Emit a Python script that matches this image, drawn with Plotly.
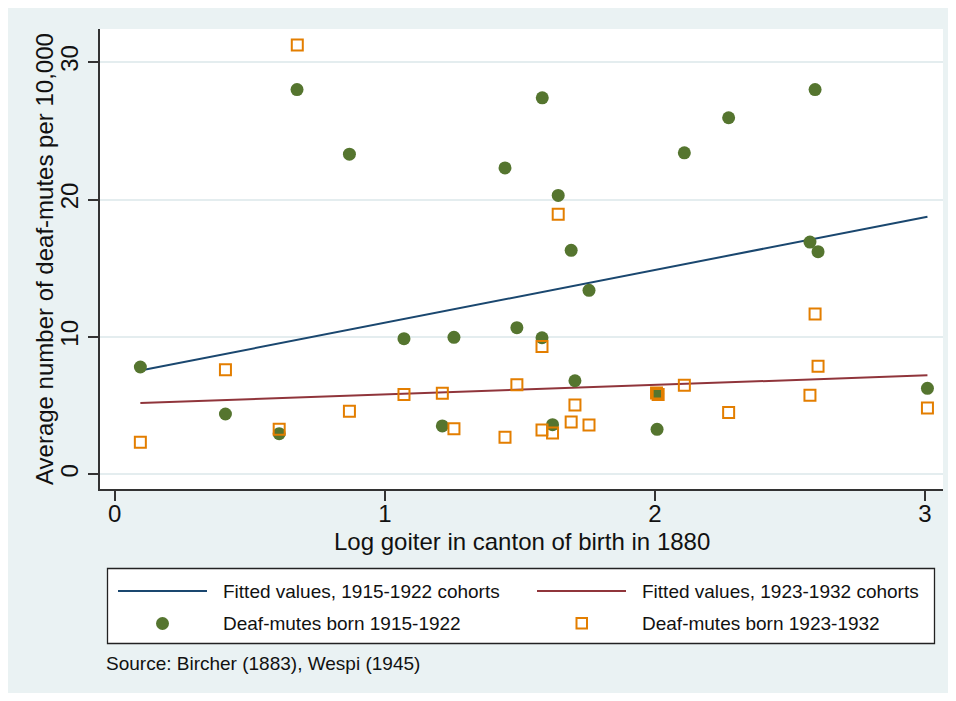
import plotly.graph_objects as go

# log goiter in canton of birth (1880) and deaf-mutes per 10,000, by cohort
goiter_1915 = [0.095, 0.410, 0.609, 0.675, 0.869, 1.071, 1.213, 1.256, 1.445, 1.489,
               1.582, 1.583, 1.621, 1.642, 1.690, 1.704, 1.756, 2.008, 2.010, 2.109,
               2.273, 2.574, 2.593, 2.604, 3.009]
deaf_1915 = [7.81, 4.39, 2.96, 28.0, 23.3, 9.87, 3.52, 9.97, 22.3, 10.67,
             9.94, 27.4, 3.61, 20.3, 16.3, 6.81, 13.39, 3.27, 5.84, 23.4,
             25.95, 16.9, 28.0, 16.2, 6.26]

goiter_1923 = [0.095, 0.410, 0.609, 0.676, 0.869, 1.071, 1.213, 1.256, 1.445, 1.489,
               1.582, 1.582, 1.621, 1.642, 1.690, 1.704, 1.756, 2.006, 2.012, 2.109,
               2.273, 2.574, 2.593, 2.604, 3.009]
deaf_1923 = [2.33, 7.61, 3.27, 31.25, 4.58, 5.80, 5.89, 3.32, 2.69, 6.52,
             9.31, 3.22, 3.00, 18.92, 3.81, 5.04, 3.59, 5.92, 5.80, 6.48,
             4.49, 5.75, 11.67, 7.86, 4.83]

# fitted values at both ends of the x range
fit_x = [0.095, 3.009]
fit_1915 = [7.55, 18.75]
fit_1923 = [5.19, 7.20]

legend_labels = ['Fitted values, 1915-1922 cohorts', 'Fitted values, 1923-1932 cohorts',
                 'Deaf-mutes born 1915-1922', 'Deaf-mutes born 1923-1932']
x_title = 'Log goiter in canton of birth in 1880'
y_title = 'Average number of deaf-mutes per 10,000'
note = 'Source: Bircher (1883), Wespi (1945)'
x_ticks = [0, 1, 2, 3]
y_ticks = [0, 10, 20, 30]

navy = '#1A476F'
maroon = '#90353B'
green = '#55752F'
orange = '#E37E00'
bg = '#EAF2F3'
FONT = 'Liberation Sans, Arial, sans-serif'

# page body adds 8px; keep the figure small enough that the page never scrolls
W, H = 948, 685
L, T = 92, 21
PW, PH = 843, 460
R, B = W - L - PW, H - T - PH


# screen pixel -> paper coords (screen plot area is x 100..943, y 29..489)
def px(x):
    return (x - 100) / PW


def py(y):
    return (489 - y) / PH


fig = go.Figure()
fig.add_trace(go.Scatter(x=fit_x, y=fit_1915, mode='lines', line=dict(color=navy, width=2),
                         name=legend_labels[0]))
fig.add_trace(go.Scatter(x=fit_x, y=fit_1923, mode='lines', line=dict(color=maroon, width=2),
                         name=legend_labels[1]))
fig.add_trace(go.Scatter(x=goiter_1915, y=deaf_1915, mode='markers',
                         marker=dict(color=green, size=13, line=dict(width=0)),
                         name=legend_labels[2]))
fig.add_trace(go.Scatter(x=goiter_1923, y=deaf_1923, mode='markers',
                         marker=dict(symbol='square-open', color=orange, size=11,
                                     line=dict(width=2, color=orange)),
                         name=legend_labels[3]))

shapes = [
    # light blue graph region and white plot region
    dict(type='rect', xref='paper', yref='paper', x0=px(7), x1=px(970), y0=py(695), y1=py(5),
         fillcolor=bg, line=dict(width=0), layer='below'),
    dict(type='rect', xref='paper', yref='paper', x0=0, x1=1, y0=0, y1=1,
         fillcolor='white', line=dict(width=0), layer='below'),
    # legend box
    dict(type='rect', xref='paper', yref='paper', x0=px(107.5), x1=px(934.5),
         y0=py(643.5), y1=py(568.5), fillcolor='white', line=dict(color='#222', width=1.3)),
    dict(type='line', xref='paper', yref='paper', x0=px(118), x1=px(207), y0=py(591), y1=py(591),
         line=dict(color=navy, width=2)),
    dict(type='line', xref='paper', yref='paper', x0=px(537), x1=px(626), y0=py(591), y1=py(591),
         line=dict(color=maroon, width=2)),
    dict(type='circle', xref='paper', yref='paper', x0=px(156), x1=px(169), y0=py(630), y1=py(617),
         fillcolor=green, line=dict(width=0)),
    dict(type='rect', xref='paper', yref='paper', x0=px(576.5), x1=px(587), y0=py(628.5),
         y1=py(618), fillcolor='white', line=dict(color=orange, width=2)),
]

annotations = []
for lab, x, y in zip(legend_labels, [221, 640, 221, 640], [591, 591, 623.5, 623.5]):
    annotations.append(dict(text=lab, xref='paper', yref='paper', x=px(x), y=py(y),
                            xanchor='left', yanchor='middle', showarrow=False,
                            font=dict(size=19, color='#111', family=FONT)))
annotations.append(dict(text=note, xref='paper', yref='paper',
                        x=px(104), y=py(663), xanchor='left', yanchor='middle', showarrow=False,
                        font=dict(size=19, color='#111', family=FONT)))
# axis titles
annotations.append(dict(text=x_title, xref='paper', yref='paper', x=0.5, y=py(541),
                        xanchor='center', yanchor='middle', showarrow=False,
                        font=dict(size=24, color='#111', family=FONT)))
annotations.append(dict(text=y_title, xref='paper', yref='paper', x=px(44), y=py(259),
                        xanchor='center', yanchor='middle', showarrow=False, textangle=-90,
                        font=dict(size=24, color='#111', family=FONT)))

fig.update_layout(
    width=W, height=H,
    margin=dict(l=L, r=R, t=T, b=B, pad=0),
    paper_bgcolor='white',
    plot_bgcolor='white',
    showlegend=False,
    font=dict(family=FONT, size=24, color='#111'),
    shapes=shapes,
    annotations=annotations,
)
fig.update_xaxes(
    range=[-0.0544, 3.0666], tickvals=x_ticks, ticks='outside', ticklen=10, tickwidth=1.5,
    tickcolor='#333', showline=True, linecolor='#333', linewidth=1.5, showgrid=False,
    zeroline=False, tickfont=dict(size=24), ticklabelstandoff=-8,
)
fig.update_yaxes(
    range=[-1.07, 32.41], tickvals=y_ticks, ticks='outside', ticklen=10, tickwidth=1.5,
    tickcolor='#333', showline=True, linecolor='#333', linewidth=1.5, showgrid=True,
    gridcolor='#E4EDEF', gridwidth=1.5, zeroline=False, tickangle=-90,
    tickfont=dict(size=24), ticklabelstandoff=1,
)

fig.write_html('out.html')
